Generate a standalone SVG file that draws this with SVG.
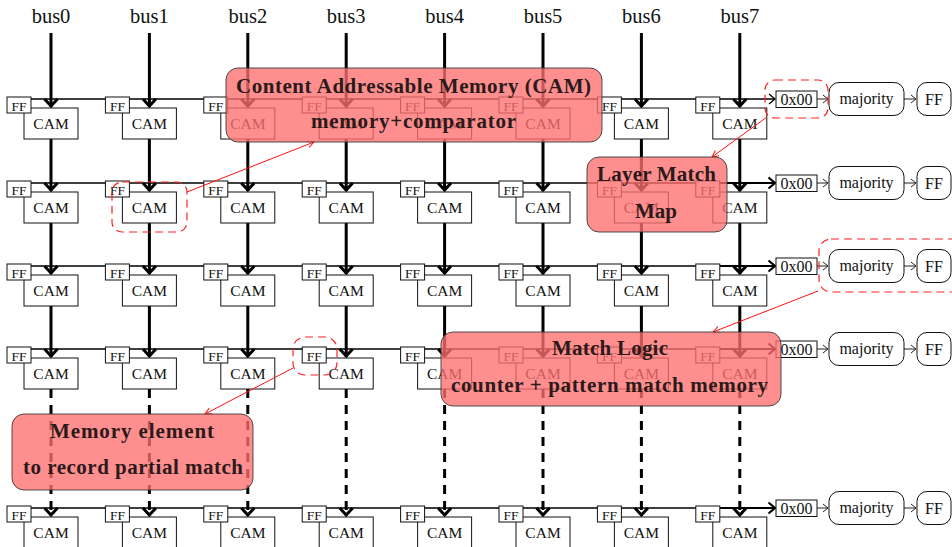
<svg xmlns="http://www.w3.org/2000/svg" width="952" height="547" viewBox="0 0 952 547">
  <style>
    text { font-family: "Liberation Serif", "DejaVu Serif", serif; fill: #111; }
    .lbl { font-size: 20.5px; text-anchor: middle; }
    .cam { fill: #fff; stroke: #111; stroke-width: 1; }
    .ff { fill: #fff; stroke: #111; stroke-width: 1; }
    .camt { font-size: 15.5px; text-anchor: middle; }
    .fft { font-size: 13.5px; text-anchor: middle; }
    .bus { fill: none; stroke: #000; stroke-width: 3; }
    .dbus { fill: none; stroke: #000; stroke-width: 3; stroke-dasharray: 9 7; }
    .tip { fill: none; stroke: #000; stroke-width: 3; stroke-linejoin: miter; }
    .row { fill: none; stroke: #000; stroke-width: 1.3; }
    .rowk { fill: none; stroke: #000; stroke-width: 2.2; }
    .thin { fill: none; stroke: #222; stroke-width: 1; }
    .hex { fill: #fff; stroke: #111; stroke-width: 1; }
    .hext { font-size: 16px; text-anchor: middle; }
    .rbox { fill: #fff; stroke: #111; stroke-width: 1; }
    .rt { font-size: 16px; text-anchor: middle; }
    .hl { fill: none; stroke: #f22; stroke-width: 1.2; stroke-dasharray: 8 5; }
    .ptr { fill: none; stroke: #f11; stroke-width: 1; marker-end: url(#redTip); }
    .note rect { fill: #ff7070; fill-opacity: 0.78; stroke: #333; stroke-opacity: 0.85; stroke-width: 1; }
    .note text { font-size: 21px; font-weight: bold; text-anchor: middle; fill: #2b1a1a; }
  </style>
  <defs>
    <marker id="redTip" viewBox="0 0 8 8" refX="7.5" refY="4" markerWidth="8" markerHeight="8" markerUnits="userSpaceOnUse" orient="auto">
      <path d="M1,0.8 L7.5,4 L1,7.2" fill="none" stroke="#f11" stroke-width="1"/>
    </marker>
  </defs>

  <!-- bus labels -->
  <g id="labels">
    <text class="lbl" x="51" y="23">bus0</text>
    <text class="lbl" x="149.4" y="23">bus1</text>
    <text class="lbl" x="247.8" y="23">bus2</text>
    <text class="lbl" x="346.2" y="23">bus3</text>
    <text class="lbl" x="444.6" y="23">bus4</text>
    <text class="lbl" x="543" y="23">bus5</text>
    <text class="lbl" x="641.4" y="23">bus6</text>
    <text class="lbl" x="739.8" y="23">bus7</text>
  </g>

  <g id="connectors">
    <!-- match chains along each row -->
    <path class="row" d="M8,99 H775 M8,183 H775 M8,266 H775 M8,349 H775 M8,508 H775"/>
    <path class="rowk" d="M720,183 H775 M720,266 H775 M720,349 H775 M720,508 H775"/>
    <path class="row" d="M769,94 L775,99 L769,104"/>
    <path class="rowk" d="M768.5,177.5 L775,183 L768.5,188.5 M768.5,260.5 L775,266 L768.5,271.5 M768.5,343.5 L775,349 L768.5,354.5 M768.5,502.5 L775,508 L768.5,513.5"/>
    <!-- vertical buses -->
    <path class="bus" d="M51,33 V107 M51,139 V191 M51,223 V274 M51,306 V357"/>
    <path class="bus" d="M149.4,33 V107 M149.4,139 V191 M149.4,223 V274 M149.4,306 V357"/>
    <path class="bus" d="M247.8,33 V107 M247.8,139 V191 M247.8,223 V274 M247.8,306 V357"/>
    <path class="bus" d="M346.2,33 V107 M346.2,139 V191 M346.2,223 V274 M346.2,306 V357"/>
    <path class="bus" d="M444.6,33 V107 M444.6,139 V191 M444.6,223 V274 M444.6,306 V357"/>
    <path class="bus" d="M543,33 V107 M543,139 V191 M543,223 V274 M543,306 V357"/>
    <path class="bus" d="M641.4,33 V107 M641.4,139 V191 M641.4,223 V274 M641.4,306 V357"/>
    <path class="bus" d="M739.8,33 V107 M739.8,139 V191 M739.8,223 V274 M739.8,306 V357"/>
    <path class="dbus" d="M51,389 V516 M149.4,389 V516 M247.8,389 V516 M346.2,389 V516 M444.6,389 V516 M543,389 V516 M641.4,389 V516 M739.8,389 V516"/>
    <!-- arrow tips into the CAMs -->
    <path class="tip" d="M44.5,99 L51,106 L57.5,99 M142.9,99 L149.4,106 L155.9,99 M241.3,99 L247.8,106 L254.3,99 M339.7,99 L346.2,106 L352.7,99 M438.1,99 L444.6,106 L451.1,99 M536.5,99 L543,106 L549.5,99 M634.9,99 L641.4,106 L647.9,99 M733.3,99 L739.8,106 L746.3,99"/>
    <path class="tip" d="M44.5,183 L51,190 L57.5,183 M142.9,183 L149.4,190 L155.9,183 M241.3,183 L247.8,190 L254.3,183 M339.7,183 L346.2,190 L352.7,183 M438.1,183 L444.6,190 L451.1,183 M536.5,183 L543,190 L549.5,183 M634.9,183 L641.4,190 L647.9,183 M733.3,183 L739.8,190 L746.3,183"/>
    <path class="tip" d="M44.5,266 L51,273 L57.5,266 M142.9,266 L149.4,273 L155.9,266 M241.3,266 L247.8,273 L254.3,266 M339.7,266 L346.2,273 L352.7,266 M438.1,266 L444.6,273 L451.1,266 M536.5,266 L543,273 L549.5,266 M634.9,266 L641.4,273 L647.9,266 M733.3,266 L739.8,273 L746.3,266"/>
    <path class="tip" d="M44.5,349 L51,356 L57.5,349 M142.9,349 L149.4,356 L155.9,349 M241.3,349 L247.8,356 L254.3,349 M339.7,349 L346.2,356 L352.7,349 M438.1,349 L444.6,356 L451.1,349 M536.5,349 L543,356 L549.5,349 M634.9,349 L641.4,356 L647.9,349 M733.3,349 L739.8,356 L746.3,349"/>
    <path class="tip" d="M44.5,508 L51,515 L57.5,508 M142.9,508 L149.4,515 L155.9,508 M241.3,508 L247.8,515 L254.3,508 M339.7,508 L346.2,515 L352.7,508 M438.1,508 L444.6,515 L451.1,508 M536.5,508 L543,515 L549.5,508 M634.9,508 L641.4,515 L647.9,508 M733.3,508 L739.8,515 L746.3,508"/>
    <!-- output path: pattern register -> majority -> FF -->
    <path class="thin" d="M817,99 H828 M823,95 L828,99 L823,103 M904,99 H916 M911,95 L916,99 L911,103"/>
    <path class="thin" d="M817,183 H828 M823,179 L828,183 L823,187 M904,183 H916 M911,179 L916,183 L911,187"/>
    <path class="thin" d="M817,266 H828 M823,262 L828,266 L823,270 M904,266 H916 M911,262 L916,266 L911,270"/>
    <path class="thin" d="M817,349 H828 M823,345 L828,349 L823,353 M904,349 H916 M911,345 L916,349 L911,353"/>
    <path class="thin" d="M817,508 H828 M823,504 L828,508 L823,512 M904,508 H916 M911,504 L916,508 L911,512"/>
  </g>

  <!-- CAM cells with their flip-flops; row 1 -->
  <g id="r1c0" transform="translate(51,99)"><rect class="cam" x="-27" y="9" width="54" height="31"/><text class="camt" x="0" y="30">CAM</text><rect class="ff" x="-44" y="-2" width="24" height="16"/><text class="fft" x="-32" y="11.5">FF</text></g>
  <g id="r1c1" transform="translate(149.4,99)"><rect class="cam" x="-27" y="9" width="54" height="31"/><text class="camt" x="0" y="30">CAM</text><rect class="ff" x="-44" y="-2" width="24" height="16"/><text class="fft" x="-32" y="11.5">FF</text></g>
  <g id="r1c2" transform="translate(247.8,99)"><rect class="cam" x="-27" y="9" width="54" height="31"/><text class="camt" x="0" y="30">CAM</text><rect class="ff" x="-44" y="-2" width="24" height="16"/><text class="fft" x="-32" y="11.5">FF</text></g>
  <g id="r1c3" transform="translate(346.2,99)"><rect class="cam" x="-27" y="9" width="54" height="31"/><text class="camt" x="0" y="30">CAM</text><rect class="ff" x="-44" y="-2" width="24" height="16"/><text class="fft" x="-32" y="11.5">FF</text></g>
  <g id="r1c4" transform="translate(444.6,99)"><rect class="cam" x="-27" y="9" width="54" height="31"/><text class="camt" x="0" y="30">CAM</text><rect class="ff" x="-44" y="-2" width="24" height="16"/><text class="fft" x="-32" y="11.5">FF</text></g>
  <g id="r1c5" transform="translate(543,99)"><rect class="cam" x="-27" y="9" width="54" height="31"/><text class="camt" x="0" y="30">CAM</text><rect class="ff" x="-44" y="-2" width="24" height="16"/><text class="fft" x="-32" y="11.5">FF</text></g>
  <g id="r1c6" transform="translate(641.4,99)"><rect class="cam" x="-27" y="9" width="54" height="31"/><text class="camt" x="0" y="30">CAM</text><rect class="ff" x="-44" y="-2" width="24" height="16"/><text class="fft" x="-32" y="11.5">FF</text></g>
  <g id="r1c7" transform="translate(739.8,99)"><rect class="cam" x="-27" y="9" width="54" height="31"/><text class="camt" x="0" y="30">CAM</text><rect class="ff" x="-44" y="-2" width="24" height="16"/><text class="fft" x="-32" y="11.5">FF</text></g>
  <!-- row 2 -->
  <g id="r2c0" transform="translate(51,183)"><rect class="cam" x="-27" y="9" width="54" height="31"/><text class="camt" x="0" y="30">CAM</text><rect class="ff" x="-44" y="-2" width="24" height="16"/><text class="fft" x="-32" y="11.5">FF</text></g>
  <g id="r2c1" transform="translate(149.4,183)"><rect class="cam" x="-27" y="9" width="54" height="31"/><text class="camt" x="0" y="30">CAM</text><rect class="ff" x="-44" y="-2" width="24" height="16"/><text class="fft" x="-32" y="11.5">FF</text></g>
  <g id="r2c2" transform="translate(247.8,183)"><rect class="cam" x="-27" y="9" width="54" height="31"/><text class="camt" x="0" y="30">CAM</text><rect class="ff" x="-44" y="-2" width="24" height="16"/><text class="fft" x="-32" y="11.5">FF</text></g>
  <g id="r2c3" transform="translate(346.2,183)"><rect class="cam" x="-27" y="9" width="54" height="31"/><text class="camt" x="0" y="30">CAM</text><rect class="ff" x="-44" y="-2" width="24" height="16"/><text class="fft" x="-32" y="11.5">FF</text></g>
  <g id="r2c4" transform="translate(444.6,183)"><rect class="cam" x="-27" y="9" width="54" height="31"/><text class="camt" x="0" y="30">CAM</text><rect class="ff" x="-44" y="-2" width="24" height="16"/><text class="fft" x="-32" y="11.5">FF</text></g>
  <g id="r2c5" transform="translate(543,183)"><rect class="cam" x="-27" y="9" width="54" height="31"/><text class="camt" x="0" y="30">CAM</text><rect class="ff" x="-44" y="-2" width="24" height="16"/><text class="fft" x="-32" y="11.5">FF</text></g>
  <g id="r2c6" transform="translate(641.4,183)"><rect class="cam" x="-27" y="9" width="54" height="31"/><text class="camt" x="0" y="30">CAM</text><rect class="ff" x="-44" y="-2" width="24" height="16"/><text class="fft" x="-32" y="11.5">FF</text></g>
  <g id="r2c7" transform="translate(739.8,183)"><rect class="cam" x="-27" y="9" width="54" height="31"/><text class="camt" x="0" y="30">CAM</text><rect class="ff" x="-44" y="-2" width="24" height="16"/><text class="fft" x="-32" y="11.5">FF</text></g>
  <!-- row 3 -->
  <g id="r3c0" transform="translate(51,266)"><rect class="cam" x="-27" y="9" width="54" height="31"/><text class="camt" x="0" y="30">CAM</text><rect class="ff" x="-44" y="-2" width="24" height="16"/><text class="fft" x="-32" y="11.5">FF</text></g>
  <g id="r3c1" transform="translate(149.4,266)"><rect class="cam" x="-27" y="9" width="54" height="31"/><text class="camt" x="0" y="30">CAM</text><rect class="ff" x="-44" y="-2" width="24" height="16"/><text class="fft" x="-32" y="11.5">FF</text></g>
  <g id="r3c2" transform="translate(247.8,266)"><rect class="cam" x="-27" y="9" width="54" height="31"/><text class="camt" x="0" y="30">CAM</text><rect class="ff" x="-44" y="-2" width="24" height="16"/><text class="fft" x="-32" y="11.5">FF</text></g>
  <g id="r3c3" transform="translate(346.2,266)"><rect class="cam" x="-27" y="9" width="54" height="31"/><text class="camt" x="0" y="30">CAM</text><rect class="ff" x="-44" y="-2" width="24" height="16"/><text class="fft" x="-32" y="11.5">FF</text></g>
  <g id="r3c4" transform="translate(444.6,266)"><rect class="cam" x="-27" y="9" width="54" height="31"/><text class="camt" x="0" y="30">CAM</text><rect class="ff" x="-44" y="-2" width="24" height="16"/><text class="fft" x="-32" y="11.5">FF</text></g>
  <g id="r3c5" transform="translate(543,266)"><rect class="cam" x="-27" y="9" width="54" height="31"/><text class="camt" x="0" y="30">CAM</text><rect class="ff" x="-44" y="-2" width="24" height="16"/><text class="fft" x="-32" y="11.5">FF</text></g>
  <g id="r3c6" transform="translate(641.4,266)"><rect class="cam" x="-27" y="9" width="54" height="31"/><text class="camt" x="0" y="30">CAM</text><rect class="ff" x="-44" y="-2" width="24" height="16"/><text class="fft" x="-32" y="11.5">FF</text></g>
  <g id="r3c7" transform="translate(739.8,266)"><rect class="cam" x="-27" y="9" width="54" height="31"/><text class="camt" x="0" y="30">CAM</text><rect class="ff" x="-44" y="-2" width="24" height="16"/><text class="fft" x="-32" y="11.5">FF</text></g>
  <!-- row 4 -->
  <g id="r4c0" transform="translate(51,349)"><rect class="cam" x="-27" y="9" width="54" height="31"/><text class="camt" x="0" y="30">CAM</text><rect class="ff" x="-44" y="-2" width="24" height="16"/><text class="fft" x="-32" y="11.5">FF</text></g>
  <g id="r4c1" transform="translate(149.4,349)"><rect class="cam" x="-27" y="9" width="54" height="31"/><text class="camt" x="0" y="30">CAM</text><rect class="ff" x="-44" y="-2" width="24" height="16"/><text class="fft" x="-32" y="11.5">FF</text></g>
  <g id="r4c2" transform="translate(247.8,349)"><rect class="cam" x="-27" y="9" width="54" height="31"/><text class="camt" x="0" y="30">CAM</text><rect class="ff" x="-44" y="-2" width="24" height="16"/><text class="fft" x="-32" y="11.5">FF</text></g>
  <g id="r4c3" transform="translate(346.2,349)"><rect class="cam" x="-27" y="9" width="54" height="31"/><text class="camt" x="0" y="30">CAM</text><rect class="ff" x="-44" y="-2" width="24" height="16"/><text class="fft" x="-32" y="11.5">FF</text></g>
  <g id="r4c4" transform="translate(444.6,349)"><rect class="cam" x="-27" y="9" width="54" height="31"/><text class="camt" x="0" y="30">CAM</text><rect class="ff" x="-44" y="-2" width="24" height="16"/><text class="fft" x="-32" y="11.5">FF</text></g>
  <g id="r4c5" transform="translate(543,349)"><rect class="cam" x="-27" y="9" width="54" height="31"/><text class="camt" x="0" y="30">CAM</text><rect class="ff" x="-44" y="-2" width="24" height="16"/><text class="fft" x="-32" y="11.5">FF</text></g>
  <g id="r4c6" transform="translate(641.4,349)"><rect class="cam" x="-27" y="9" width="54" height="31"/><text class="camt" x="0" y="30">CAM</text><rect class="ff" x="-44" y="-2" width="24" height="16"/><text class="fft" x="-32" y="11.5">FF</text></g>
  <g id="r4c7" transform="translate(739.8,349)"><rect class="cam" x="-27" y="9" width="54" height="31"/><text class="camt" x="0" y="30">CAM</text><rect class="ff" x="-44" y="-2" width="24" height="16"/><text class="fft" x="-32" y="11.5">FF</text></g>
  <!-- last row -->
  <g id="r5c0" transform="translate(51,508)"><rect class="cam" x="-27" y="9" width="54" height="31"/><text class="camt" x="0" y="30">CAM</text><rect class="ff" x="-44" y="-2" width="24" height="16"/><text class="fft" x="-32" y="11.5">FF</text></g>
  <g id="r5c1" transform="translate(149.4,508)"><rect class="cam" x="-27" y="9" width="54" height="31"/><text class="camt" x="0" y="30">CAM</text><rect class="ff" x="-44" y="-2" width="24" height="16"/><text class="fft" x="-32" y="11.5">FF</text></g>
  <g id="r5c2" transform="translate(247.8,508)"><rect class="cam" x="-27" y="9" width="54" height="31"/><text class="camt" x="0" y="30">CAM</text><rect class="ff" x="-44" y="-2" width="24" height="16"/><text class="fft" x="-32" y="11.5">FF</text></g>
  <g id="r5c3" transform="translate(346.2,508)"><rect class="cam" x="-27" y="9" width="54" height="31"/><text class="camt" x="0" y="30">CAM</text><rect class="ff" x="-44" y="-2" width="24" height="16"/><text class="fft" x="-32" y="11.5">FF</text></g>
  <g id="r5c4" transform="translate(444.6,508)"><rect class="cam" x="-27" y="9" width="54" height="31"/><text class="camt" x="0" y="30">CAM</text><rect class="ff" x="-44" y="-2" width="24" height="16"/><text class="fft" x="-32" y="11.5">FF</text></g>
  <g id="r5c5" transform="translate(543,508)"><rect class="cam" x="-27" y="9" width="54" height="31"/><text class="camt" x="0" y="30">CAM</text><rect class="ff" x="-44" y="-2" width="24" height="16"/><text class="fft" x="-32" y="11.5">FF</text></g>
  <g id="r5c6" transform="translate(641.4,508)"><rect class="cam" x="-27" y="9" width="54" height="31"/><text class="camt" x="0" y="30">CAM</text><rect class="ff" x="-44" y="-2" width="24" height="16"/><text class="fft" x="-32" y="11.5">FF</text></g>
  <g id="r5c7" transform="translate(739.8,508)"><rect class="cam" x="-27" y="9" width="54" height="31"/><text class="camt" x="0" y="30">CAM</text><rect class="ff" x="-44" y="-2" width="24" height="16"/><text class="fft" x="-32" y="11.5">FF</text></g>

  <!-- per-row output: pattern register, majority vote, flip-flop -->
  <g id="out1" transform="translate(0,99)"><rect class="hex" x="776" y="-8" width="41" height="16.5"/><text class="hext" x="796.5" y="5.5">0x00</text><rect class="rbox" x="829" y="-16.5" width="75" height="33" rx="10"/><text class="rt" x="866.5" y="4.5">majority</text><rect class="rbox" x="917" y="-16.5" width="34" height="33" rx="10"/><text class="rt" x="934" y="5.5">FF</text></g>
  <g id="out2" transform="translate(0,183)"><rect class="hex" x="776" y="-8" width="41" height="16.5"/><text class="hext" x="796.5" y="5.5">0x00</text><rect class="rbox" x="829" y="-16.5" width="75" height="33" rx="10"/><text class="rt" x="866.5" y="4.5">majority</text><rect class="rbox" x="917" y="-16.5" width="34" height="33" rx="10"/><text class="rt" x="934" y="5.5">FF</text></g>
  <g id="out3" transform="translate(0,266)"><rect class="hex" x="776" y="-8" width="41" height="16.5"/><text class="hext" x="796.5" y="5.5">0x00</text><rect class="rbox" x="829" y="-16.5" width="75" height="33" rx="10"/><text class="rt" x="866.5" y="4.5">majority</text><rect class="rbox" x="917" y="-16.5" width="34" height="33" rx="10"/><text class="rt" x="934" y="5.5">FF</text></g>
  <g id="out4" transform="translate(0,349)"><rect class="hex" x="776" y="-8" width="41" height="16.5"/><text class="hext" x="796.5" y="5.5">0x00</text><rect class="rbox" x="829" y="-16.5" width="75" height="33" rx="10"/><text class="rt" x="866.5" y="4.5">majority</text><rect class="rbox" x="917" y="-16.5" width="34" height="33" rx="10"/><text class="rt" x="934" y="5.5">FF</text></g>
  <g id="out5" transform="translate(0,508)"><rect class="hex" x="776" y="-8" width="41" height="16.5"/><text class="hext" x="796.5" y="5.5">0x00</text><rect class="rbox" x="829" y="-16.5" width="75" height="33" rx="10"/><text class="rt" x="866.5" y="4.5">majority</text><rect class="rbox" x="917" y="-16.5" width="34" height="33" rx="10"/><text class="rt" x="934" y="5.5">FF</text></g>

  <!-- highlighted parts and pointers to their notes -->
  <g id="highlights">
    <rect class="hl" x="765" y="80" width="63" height="38" rx="10"/>
    <rect class="hl" x="112" y="182" width="75" height="50" rx="10"/>
    <rect class="hl" x="819" y="239" width="145" height="53" rx="12"/>
    <rect class="hl" x="293" y="337" width="44" height="38" rx="12"/>
    <path class="ptr" d="M187,192 L314,142"/>
    <path class="ptr" d="M767,117 L712,157"/>
    <path class="ptr" d="M818,291 L713,332"/>
    <path class="ptr" d="M293,368 L205,414"/>
  </g>

  <!-- notes -->
  <g id="note-cam" class="note">
    <rect x="226" y="68" width="376" height="74" rx="12"/>
    <text x="413.5" y="93" textLength="355">Content Addressable Memory (CAM)</text>
    <text x="413.5" y="128" textLength="205">memory+comparator</text>
  </g>
  <g id="note-map" class="note">
    <rect x="587" y="157" width="140" height="75" rx="12"/>
    <text x="656.5" y="181" textLength="119">Layer Match</text>
    <text x="656" y="218" textLength="42">Map</text>
  </g>
  <g id="note-logic" class="note">
    <rect x="441" y="332" width="340" height="74" rx="12"/>
    <text x="610" y="355" textLength="116">Match Logic</text>
    <text x="609.5" y="392" textLength="317">counter + pattern match memory</text>
  </g>
  <g id="note-mem" class="note">
    <rect x="12" y="414" width="241" height="76" rx="12"/>
    <text x="132" y="438" textLength="164">Memory element</text>
    <text x="133" y="474" textLength="220">to record partial match</text>
  </g>
</svg>
